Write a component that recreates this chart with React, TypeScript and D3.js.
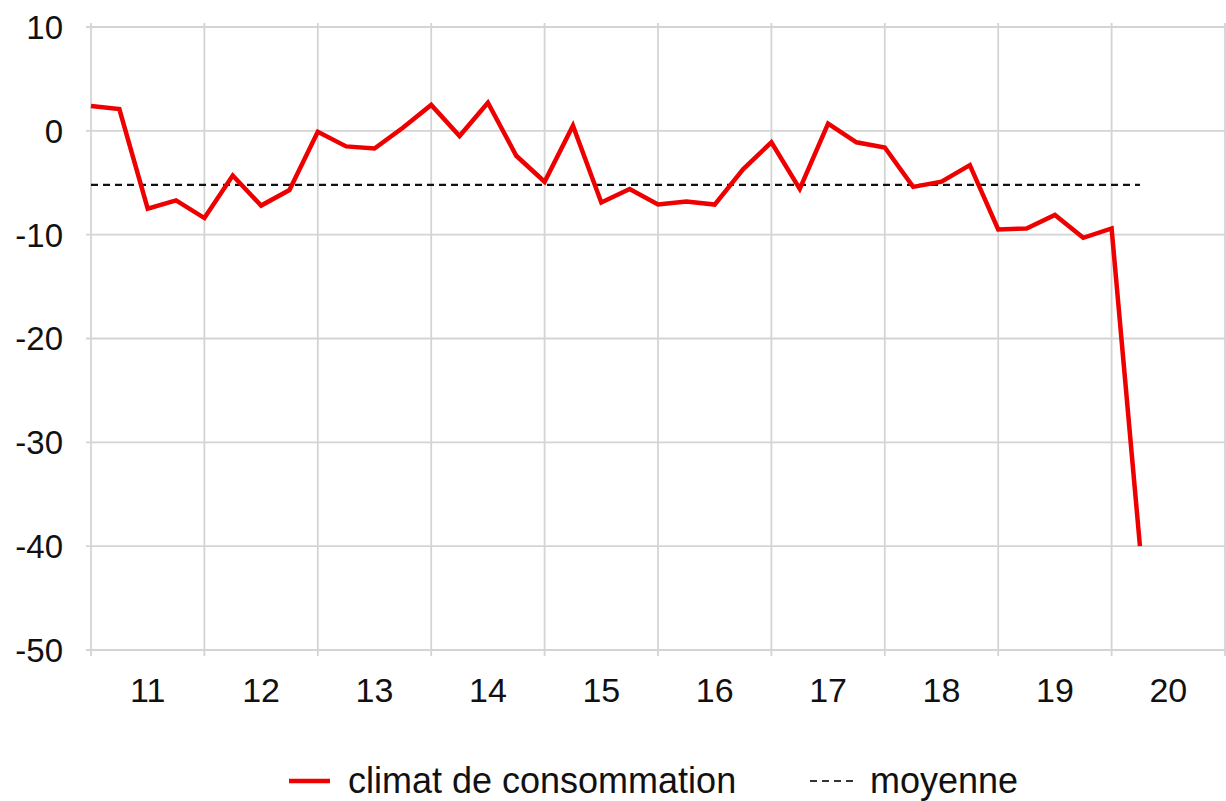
import React from 'react';
import * as d3 from 'd3';

// quarterly values, 2011 Q1 .. 2020 Q2
const climat = [
  2.4, 2.1, -7.5, -6.7,
  -8.4, -4.3, -7.2, -5.7,
  -0.1, -1.5, -1.7, 0.3,
  2.5, -0.5, 2.7, -2.4,
  -4.9, 0.5, -6.9, -5.6,
  -7.1, -6.8, -7.1, -3.7,
  -1.1, -5.6, 0.7, -1.1,
  -1.6, -5.4, -4.9, -3.3,
  -9.5, -9.4, -8.1, -10.3,
  -9.4, -40.0,
];
const moyenne = -5.2;
const yearLabels = ['11', '12', '13', '14', '15', '16', '17', '18', '19', '20'];
const yTicks = [10, 0, -10, -20, -30, -40, -50];

const width = 1226;
const height = 801;
const font = '"Liberation Sans", Arial, sans-serif';

export default function App() {
  const x = d3.scaleLinear().domain([0, yearLabels.length * 4]).range([91, 1225]);
  const y = d3.scaleLinear().domain([-50, 10]).range([650, 27]);

  const line = d3
    .line<number>()
    .x((_d, i) => x(i))
    .y((d) => y(d));

  const yearBounds = d3.range(0, yearLabels.length * 4 + 1, 4);

  return (
    <svg
      width={width}
      height={height}
      style={{ position: 'absolute', left: 0, top: 0, background: '#fff' }}
      fontFamily={font}
    >
      {/* horizontal grid */}
      {yTicks.map((t) => (
        <line key={'h' + t} x1={86} x2={1226} y1={y(t)} y2={y(t)} stroke="#d4d4d4" strokeWidth={1.8} />
      ))}
      {/* vertical grid at year boundaries */}
      {yearBounds.map((b) => (
        <line key={'v' + b} x1={x(b)} x2={x(b)} y1={23} y2={656} stroke="#d4d4d4" strokeWidth={1.8} />
      ))}

      {/* y labels */}
      {yTicks.map((t) => (
        <text key={'yl' + t} x={63} y={y(t)} dy="0.36em" textAnchor="end" fontSize={33} fill="#111">
          {t}
        </text>
      ))}
      {/* year labels, centred in each year */}
      {yearLabels.map((l, i) => (
        <text key={'xl' + l} x={x(i * 4 + 2)} y={702} textAnchor="middle" fontSize={34} fill="#111">
          {l}
        </text>
      ))}

      {/* average */}
      <line
        x1={x(0)}
        x2={x(climat.length - 1)}
        y1={y(moyenne)}
        y2={y(moyenne)}
        stroke="#111"
        strokeWidth={2.2}
        strokeDasharray="7,5"
      />
      {/* series */}
      <path d={line(climat) || ''} fill="none" stroke="#ee0000" strokeWidth={4.5} strokeLinejoin="miter" />

      {/* legend */}
      <g fontSize={36} fill="#111">
        <line x1={289} x2={330} y1={781} y2={781} stroke="#ee0000" strokeWidth={4.5} />
        <text x={348} y={793}>climat de consommation</text>
        <line x1={810} x2={855} y1={781} y2={781} stroke="#333" strokeWidth={2} strokeDasharray="7,5" />
        <text x={870} y={793}>moyenne</text>
      </g>
    </svg>
  );
}
